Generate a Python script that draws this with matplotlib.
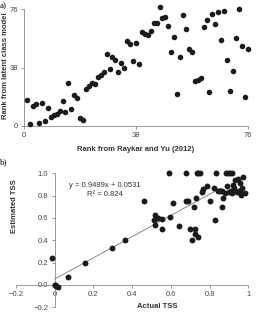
import numpy as np
import matplotlib.pyplot as plt

plt.rcParams['font.family'] = ['Liberation Sans', 'DejaVu Sans']

# panel a: rank comparison (x = rank from Raykar and Yu, y = rank from latent class model)
rank_ry = list(range(1, 77))
rank_lc = [17, 1, 13, 14, 2, 15, 3, 12, 6, 7, 8, 10, 16, 9, 28, 11, 20, 18, 5, 4,
           24, 26, 28, 27, 32, 33, 35, 47, 37, 45, 43, 35, 41, 38, 55, 53, 42, 54, 40, 61,
           60, 59, 62, 67, 67, 77, 70, 71, 65, 48, 58, 21, 45, 72, 63, 50, 48, 29, 30, 31,
           64, 69, 22, 73, 66, 74, 56, 75, 43, 23, 36, 57, 76, 52, 19, 50]

# panel b: actual vs estimated TSS
actual_tss = [-0.012, 0.0, 0.007, 0.017, 0.004, 0.07, 0.154, 0.296, 0.363, 0.46,
              0.512, 0.519, 0.525, 0.535, 0.553, 0.516, 0.556, 0.59, 0.598, 0.611,
              0.643, 0.68, 0.678, 0.69, 0.698, 0.71, 0.72, 0.732, 0.727, 0.727,
              0.74, 0.733, 0.74, 0.748, 0.762, 0.765, 0.786, 0.802, 0.824, 0.829,
              0.835, 0.846, 0.856, 0.862, 0.866, 0.871, 0.878, 0.883, 0.895, 0.905,
              0.915, 0.891, 0.90, 0.91, 0.915, 0.921, 0.925, 0.933, 0.945, 0.955,
              0.958, 0.96, 0.971, 0.97, 0.983, 0.94, 0.95]
estimated_tss = [0.243, 0.0, -0.005, -0.015, 0.002, 0.072, 0.198, 0.33, 0.40, 0.748,
                 0.58, 0.625, 0.60, 0.60, 0.595, 0.535, 0.498, 1.0, 0.61, 0.736,
                 0.529, 1.0, 0.748, 0.748, 0.498, 0.40, 0.694, 0.775, 0.498, 0.453,
                 0.43, 1.0, 1.0, 1.0, 0.835, 0.856, 0.889, 0.748, 0.868, 0.58,
                 1.0, 0.84, 0.84, 0.845, 0.70, 0.775, 0.82, 1.0, 1.0, 1.0,
                 1.0, 0.889, 0.83, 0.84, 0.82, 0.895, 0.865, 0.94, 0.949, 0.91,
                 0.835, 0.805, 0.964, 0.865, 0.82, 0.83, 0.84]
slope, intercept, r2 = 0.9489, 0.0531, 0.824

dot = "#1b1b1b"
axis_col = "#8a8a8a"
tick_col = "#444444"

fig = plt.figure(figsize=(2.56, 3.12), dpi=100)

# ---- panel a
ax1 = fig.add_axes([24.3 / 256, 1 - 126 / 312, 223.4 / 256, 117 / 312])
ax1.scatter(rank_ry, rank_lc, s=16, color=dot, linewidths=0, clip_on=False, zorder=3)
ax1.set_xlim(0, 76)
ax1.set_ylim(0, 76)
ax1.set_xticks([0, 38, 76])
ax1.set_yticks([0, 38, 76])
for side in ["top", "right"]:
    ax1.spines[side].set_visible(False)
for side in ["left", "bottom"]:
    ax1.spines[side].set_color(axis_col)
    ax1.spines[side].set_linewidth(0.6)
ax1.tick_params(length=2.5, width=0.6, color=axis_col, labelsize=5.5,
                labelcolor=tick_col, pad=2)
ax1.set_xlabel("Rank from Raykar and Yu (2012)", fontsize=5.5, fontweight="bold",
               color="#333333", labelpad=5)
fig.text(6 / 256, 1 - 66 / 312, "Rank from latent class model", fontsize=5.5,
         fontweight="bold", color="#333333", ha="center", va="center", rotation=90)
fig.text(0 / 256, 1 - 6 / 312, "a)", fontsize=6.5, family="Liberation Serif", va="center")

# ---- panel b
ax2 = fig.add_axes([16 / 256, 1 - 307.3 / 312, 232.3 / 256, 134 / 312])
ax2.scatter(actual_tss, estimated_tss, s=18, color=dot, linewidths=0, clip_on=False, zorder=3)
xl = np.array([0, 0.86])
ax2.plot(xl, slope * xl + intercept, color="#777777", lw=0.6, zorder=2)
ax2.set_xlim(-0.2, 1.0)
ax2.set_ylim(-0.2, 1.0)
ax2.spines["left"].set_position(("data", 0))
ax2.spines["bottom"].set_position(("data", 0))
for side in ["top", "right"]:
    ax2.spines[side].set_visible(False)
for side in ["left", "bottom"]:
    ax2.spines[side].set_color(axis_col)
    ax2.spines[side].set_linewidth(0.6)
xt = [-0.2, 0, 0.2, 0.4, 0.6, 0.8, 1.0]
ax2.set_xticks(xt)
ax2.set_xticklabels(["\u22120.2", "0", "0.2", "0.4", "0.6", "0.8", "1"])
yt = [-0.2, 0, 0.2, 0.4, 0.6, 0.8, 1.0]
ax2.set_yticks(yt)
ax2.set_yticklabels(["\u22120.2", "0.0", "0.2", "0.4", "0.6", "0.8", "1.0"])
ax2.tick_params(length=2.5, width=0.6, color=axis_col, labelsize=5.5,
                labelcolor=tick_col, pad=2)
ax2.text(0.26, 0.88, "y = 0.9489x + 0.0531", fontsize=5.5, color="#333333", ha="center")
ax2.text(0.26, 0.80, "R\u00b2 = 0.824", fontsize=5.5, color="#333333", ha="center")
fig.text(157 / 256, 1 - 306 / 312, "Actual TSS", fontsize=5.5, fontweight="bold",
         color="#333333", ha="center", va="center")
fig.text(15 / 256, 1 - 206 / 312, "Estimated TSS", fontsize=5.5, fontweight="bold",
         color="#333333", ha="center", va="center", rotation=90)
fig.text(0 / 256, 1 - 162 / 312, "b)", fontsize=6.5, family="Liberation Serif", va="center")

fig.savefig("out.png", dpi=100)
